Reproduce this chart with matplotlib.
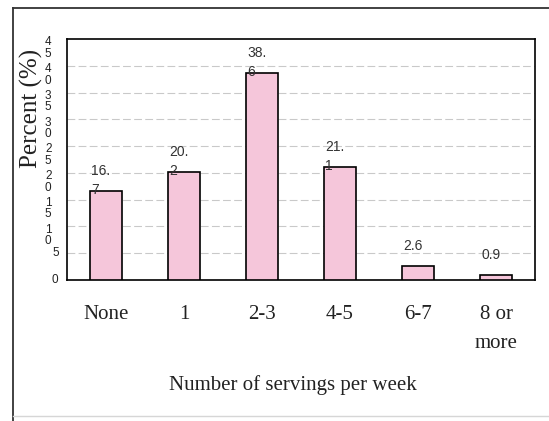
import matplotlib
matplotlib.use("Agg")
import matplotlib.pyplot as plt
from matplotlib.lines import Line2D
from matplotlib.transforms import blended_transform_factory, offset_copy

categories = ["None", "1", "2-3", "4-5", "6-7", "8 or\nmore"]
percent = [16.7, 20.2, 38.6, 21.1, 2.6, 0.9]
value_labels = ["16.\n7", "20.\n2", "38.\n6", "21.\n1", "2.6", "0.9"]
y_ticks = [0, 5, 10, 15, 20, 25, 30, 35, 40, 45]

SERIF = "Liberation Serif"
SANS = "Liberation Sans"
BAR_COLOR = "#f5c6da"
BAR_WIDTH = 0.41

fig = plt.figure(figsize=(5.49, 4.21), dpi=100)
ax = fig.add_axes([67 / 549, 1 - 280 / 421, (535 - 67) / 549, (280 - 39) / 421])

x = list(range(len(categories)))
bars = ax.bar(x, percent, width=BAR_WIDTH, color=BAR_COLOR, edgecolor="black",
              linewidth=1.2, zorder=3)

ax.set_xlim(-0.5, len(categories) - 0.5)
ax.set_ylim(y_ticks[0], y_ticks[-1])

# dashed horizontal grid, skipping the frame edges
for t in y_ticks[1:-1]:
    ax.axhline(t, color="#c9c9c9", linewidth=0.8, dashes=(7, 3), zorder=1)

for side in ax.spines.values():
    side.set_linewidth(1.2)
    side.set_color("black")

ax.tick_params(length=0)
ax.set_yticks(y_ticks)
ax.set_yticklabels([])
ax.set_xticks(x)
ax.set_xticklabels(categories, fontfamily=SERIF, fontsize=15, va="top",
                   linespacing=1.7, color="#222222")
ax.tick_params(axis="x", pad=18)

# y tick labels wrap one digit per line in the narrow label column
trans = blended_transform_factory(ax.transAxes, ax.transData)
for t in y_ticks:
    s = str(t)
    if len(s) == 1:
        ax.text(-0.025, t, s, transform=trans, ha="center", va="center",
                fontfamily=SANS, fontsize=8.5, color="#222222")
    else:
        tr = offset_copy(trans, fig=fig, x=0, y=-9, units="dots")
        ax.text(-0.04, t, "\n".join(s), transform=tr, ha="center", va="center",
                fontfamily=SANS, fontsize=8.5, color="#222222", linespacing=0.95)

# value labels above each bar
for rect, label in zip(bars, value_labels):
    ax.annotate(label, xy=(rect.get_x(), rect.get_height()), xytext=(1, 27),
                textcoords="offset pixels", ha="left", va="top",
                fontfamily=SANS, fontsize=10, color="#333333", linespacing=1.45,
                zorder=4)

fig.text(31.5 / 549, 1 - 108 / 421, "Percent (%)", rotation=90, ha="center",
         va="center", fontfamily=SERIF, fontsize=18, color="#222222")
fig.text(293 / 549, 1 - 385 / 421, "Number of servings per week", ha="center",
         va="center", fontfamily=SERIF, fontsize=15, color="#222222")

# outer frame around the figure
fig.add_artist(Line2D([13 / 549, 1], [1 - 7.5 / 421, 1 - 7.5 / 421],
                      transform=fig.transFigure, color="#333333", linewidth=1.3))
fig.add_artist(Line2D([13 / 549, 13 / 549], [0, 1 - 7.5 / 421],
                      transform=fig.transFigure, color="#333333", linewidth=1.3))
fig.add_artist(Line2D([13 / 549, 1], [1 - 416 / 421, 1 - 416 / 421],
                      transform=fig.transFigure, color="#d6d6d6", linewidth=1.0))

fig.savefig("out.png", dpi=100)
